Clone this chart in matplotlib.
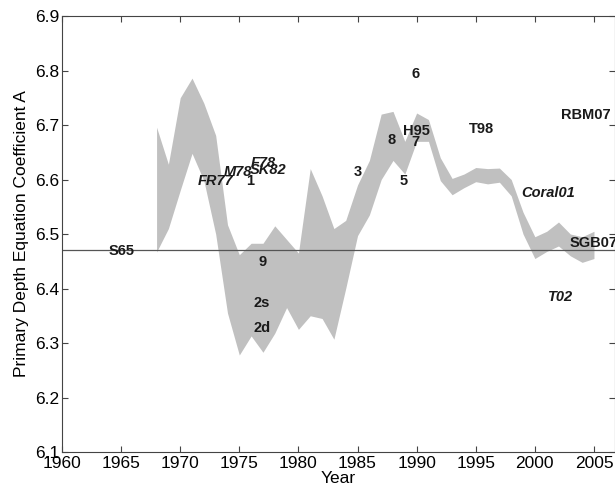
import numpy as np
import matplotlib.pyplot as plt

plt.rcParams['font.family'] = ['Liberation Sans', 'DejaVu Sans']

years = np.arange(1968, 2006)
upper = [6.696, 6.628, 6.750, 6.786, 6.740, 6.681, 6.517, 6.462, 6.483, 6.483,
         6.515, 6.490, 6.465, 6.620, 6.570, 6.510, 6.525, 6.590, 6.635, 6.720,
         6.725, 6.670, 6.722, 6.710, 6.640, 6.602, 6.610, 6.622, 6.620, 6.621,
         6.600, 6.540, 6.495, 6.505, 6.522, 6.500, 6.495, 6.505]
lower = [6.467, 6.510, 6.580, 6.648, 6.598, 6.500, 6.355, 6.278, 6.313, 6.283,
         6.318, 6.365, 6.325, 6.350, 6.345, 6.307, 6.400, 6.497, 6.535, 6.600,
         6.635, 6.610, 6.670, 6.670, 6.598, 6.572, 6.585, 6.596, 6.592, 6.595,
         6.570, 6.500, 6.455, 6.468, 6.478, 6.460, 6.448, 6.455]

ref_value = 6.471

# study labels: (text, year, value, italic)
labels = [
    ('S65', 1965.0, 6.469, False),
    ('FR77', 1973.0, 6.598, True),
    ('M78', 1974.9, 6.613, True),
    ('1', 1975.9, 6.598, False),
    ('F78', 1977.0, 6.631, True),
    ('SK82', 1977.4, 6.617, True),
    ('3', 1985.0, 6.614, False),
    ('8', 1987.9, 6.672, False),
    ('5', 1988.9, 6.598, False),
    ('6', 1989.9, 6.794, False),
    ('H95', 1990.0, 6.689, False),
    ('7', 1989.9, 6.668, False),
    ('T98', 1995.5, 6.692, False),
    ('RBM07', 2004.3, 6.718, False),
    ('Coral01', 2001.1, 6.575, True),
    ('T02', 2002.2, 6.384, True),
    ('9', 1977.0, 6.448, False),
    ('2s', 1976.9, 6.373, False),
    ('2d', 1976.9, 6.328, False),
]

fig = plt.figure(figsize=(6.15, 4.94), dpi=100)
ax = fig.add_axes([0.1008, 0.085, 0.8996, 0.8826])

ax.fill_between(years, lower, upper, color='#c0c0c0', linewidth=0)
ax.axhline(ref_value, color='#555555', linewidth=0.9)

for txt, x, y, it in labels:
    ax.text(x, y, txt, ha='center', va='center', fontsize=10.5,
            fontweight='bold', style='italic' if it else 'normal', color='#1a1a1a')
ax.text(2002.9, 6.484, 'SGB07', ha='left', va='center', fontsize=10.5,
        fontweight='bold', color='#1a1a1a', clip_on=False)

ax.set_xlim(1960, 2006.8)
ax.set_ylim(6.1, 6.9)
ax.set_xticks(np.arange(1960, 2006, 5))
ax.set_yticks(np.arange(6.1, 6.91, 0.1))
ax.tick_params(direction='in', top=True, right=True, labelsize=12.5, length=4,
               color='#444444')
ax.tick_params(axis='x', pad=3)
ax.tick_params(axis='y', pad=2)
for s in ax.spines.values():
    s.set_color('#444444')
ax.set_xlabel('Year', fontsize=12.5, labelpad=0)
ax.set_ylabel('Primary Depth Equation Coefficient A', fontsize=12.5, labelpad=4)

fig.savefig('out.png', dpi=100)
